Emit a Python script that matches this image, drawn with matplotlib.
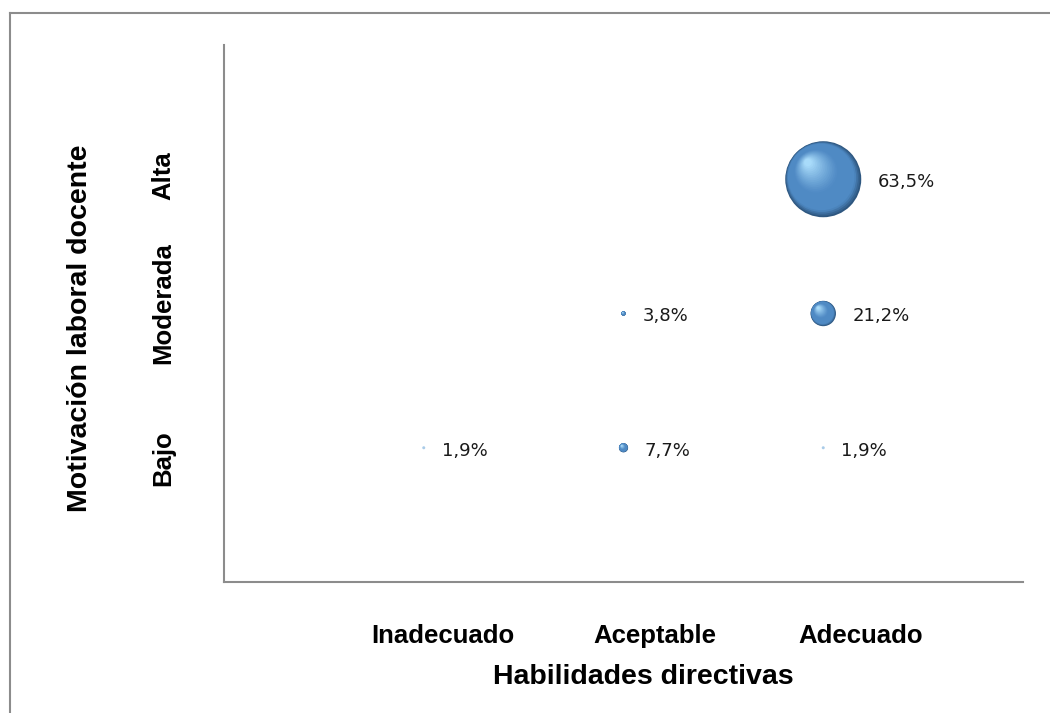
"""
Gráfico de burbujas: Habilidades directivas vs Motivación laboral docente
"""
import matplotlib.pyplot as plt
from matplotlib.lines import Line2D
import matplotlib.transforms as mtransforms
import numpy as np

# categorías
x_cats = ['Inadecuado', 'Aceptable', 'Adecuado']
y_cats = ['Bajo', 'Moderada', 'Alta']

# burbujas: índice de x, índice de y, porcentaje
bx = [1, 2, 3, 2, 3, 3]
by = [1, 1, 1, 2, 2, 3]
pct = [1.9, 7.7, 1.9, 3.8, 21.2, 63.5]
labels = ['1,9%', '7,7%', '1,9%', '3,8%', '21,2%', '63,5%']

fig = plt.figure(figsize=(10.5, 7.13), dpi=100)
ax = fig.add_axes([224/1050, 1 - 582/713, 799/1050, 537/713])
ax.set_xlim(0, 4)
ax.set_ylim(0, 4)

# borde exterior (solo arriba e izquierda)
fig.add_artist(Line2D([10/1050, 10/1050], [0, 1 - 13/713], color='#8c8c8c', lw=1.5))
fig.add_artist(Line2D([10/1050, 1], [1 - 13/713, 1 - 13/713], color='#8c8c8c', lw=1.5))

for s in ['top', 'right']:
    ax.spines[s].set_visible(False)
ax.spines['left'].set_color('#8c8c8c')
ax.spines['bottom'].set_color('#8c8c8c')
ax.spines['left'].set_linewidth(1.5)
ax.spines['bottom'].set_linewidth(1.5)

# diámetro proporcional al valor (px)
px_per = 76 / 63.5
dark = np.array([0.18, 0.34, 0.50])
mid = np.array([0.31, 0.54, 0.77])
light = np.array([0.66, 0.86, 0.98])

for x, y, p, lab in zip(bx, by, pct, labels):
    d = p * px_per
    if d < 3:
        # las burbujas diminutas se ven claras
        ax.scatter(x, y, s=(0.72 * 3) ** 2, color='#a9cbe8', edgecolor='none', zorder=3)
    else:
        n = 30
        for k in range(n):
            t = k / (n - 1)
            dk = d * (1 - 0.9 * t)
            if t < 0.12:
                c = dark + (mid - dark) * (t / 0.12)
            elif t < 0.45:
                c = mid
            else:
                c = mid + (light - mid) * ((t - 0.45) / 0.55) ** 1.2
            # desplazamiento del brillo hacia arriba-izquierda
            off = mtransforms.ScaledTranslation(-0.2 * d * t / 100, 0.22 * d * t / 100,
                                                fig.dpi_scale_trans)
            ax.scatter(x, y, s=(0.72 * dk) ** 2, color=c, edgecolor='none',
                       transform=ax.transData + off, zorder=3 + k)
    ax.annotate(lab, (x, y), xytext=(d / 2 * 0.72 + 12, -2), textcoords='offset points',
                va='center', ha='left', fontsize=13, color='#1a1a1a',
                family='DejaVu Sans')

ax.set_xticks([1, 2, 3])
ax.set_yticks([1, 2, 3])
ax.set_xticklabels(x_cats, fontsize=18.5, fontweight='bold', family='Liberation Sans')
ax.set_yticklabels(y_cats, fontsize=18.5, fontweight='bold', family='Liberation Sans',
                   rotation=90, va='center')
ax.tick_params(length=0)
ax.tick_params(axis='x', pad=30)
ax.tick_params(axis='y', pad=35)

# desplazar etiquetas para imitar el original
for lbl, dx in zip(ax.get_xticklabels(), [19, 31, 37]):
    lbl.set_transform(lbl.get_transform() + mtransforms.ScaledTranslation(dx / 100, 0, fig.dpi_scale_trans))
for lbl, dy in zip(ax.get_yticklabels(), [-10, 10, 4]):
    lbl.set_transform(lbl.get_transform() + mtransforms.ScaledTranslation(0, dy / 100, fig.dpi_scale_trans))

fig.text(643/1050, 1 - 677/713, 'Habilidades directivas', ha='center', va='center',
         fontsize=20.5, fontweight='bold', family='Liberation Sans')
fig.text(80/1050, 1 - 328/713, 'Motivación laboral docente', ha='center', va='center',
         rotation=90, fontsize=20.5, fontweight='bold', family='Liberation Sans')

fig.savefig('out.png', dpi=100, facecolor='white')
